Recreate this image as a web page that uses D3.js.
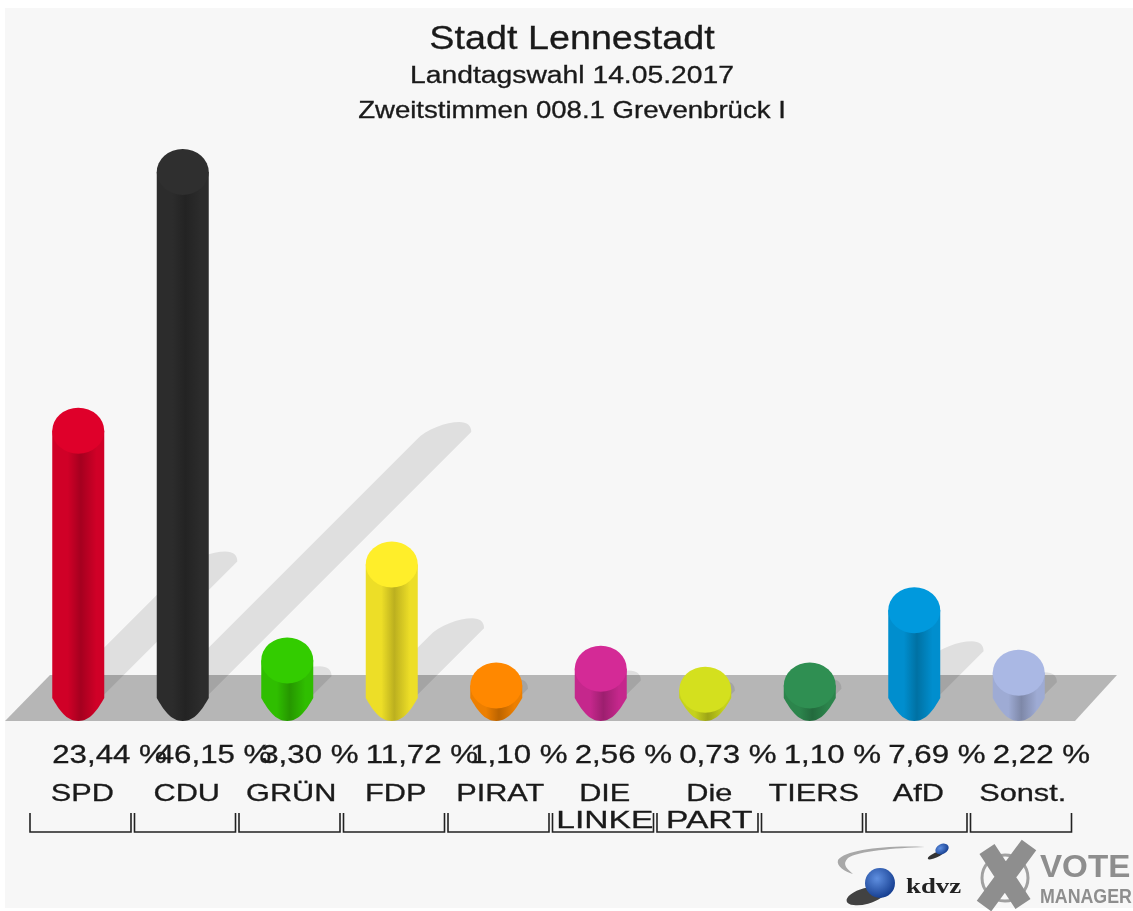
<!DOCTYPE html>
<html><head><meta charset="utf-8">
<script src="https://cdn.jsdelivr.net/npm/d3@7/dist/d3.min.js"></script>
<style>html,body{margin:0;padding:0;background:#fff}svg{display:block;filter:blur(0.6px)}text{font-family:"Liberation Sans",Arial,sans-serif;fill:#1a1a1a}</style>
</head><body><div id="chart"></div>
<script>
const parties=["SPD","CDU","GRÜN","FDP","PIRAT","DIE|LINKE","Die|PART","TIERS","AfD","Sonst."];
const values=[23.44,46.15,3.30,11.72,1.10,2.56,0.73,1.10,7.69,2.22];
const valueLabels=["23,44 %","46,15 %","3,30 %","11,72 %","1,10 %","2,56 %","0,73 %","1,10 %","7,69 %","2,22 %"];
const capColors=["#df002a","#2f2f2f","#33cc00","#ffee2a","#ff8800","#d42a96","#d4e01e","#2f8f52","#0099dd","#aab8e4"];
const titleLines=["Stadt Lennestadt","Landtagswahl 14.05.2017","Zweitstimmen 008.1 Grevenbrück I"];

const W=1133,H=911;
const svg=d3.select("#chart").append("svg").attr("width",W).attr("height",H);
const defs=svg.append("defs");
const x=d3.scaleBand().domain(d3.range(parties.length)).range([26,1071]).paddingInner(0).paddingOuter(0);
const y=d3.scaleLinear().domain([0,46.15]).range([675,149]);
const floorY=721,rx=26,ry=23;
const cx=i=>x(i)+x.bandwidth()/2;

svg.append("rect").attr("x",5).attr("y",8).attr("width",W-5).attr("height",900).attr("fill","#f7f7f7");
svg.append("path").attr("d","M5,721L50,675H1117L1075,721Z").attr("fill","#b6b6b6");

// shadows: sheared cylinders falling up and to the right
const shadows=svg.append("g").attr("fill","#000").attr("fill-opacity",0.095);
values.forEach((v,i)=>{
  const h=y(0)-y(v), L=0.5*h+8, X=cx(i);
  const tx=X+L+17.5, ty=703-L;
  const lx=tx-55, ly=ty+8;
  shadows.append("path").attr("d",
    `M${X},711V${Math.min(ly+(lx-X),711)}L${lx},${ly}`+
    `C${tx-45},${ty-3} ${tx-25},${ty-10} ${tx-12},${ty-10}Q${tx},${ty-10} ${tx},${ty}`+
    `L${X+9.5},711Z`);
});

// cylinders
values.forEach((v,i)=>{
  const c=d3.color(capColors[i]);
  const body=c.darker(0.2).formatHex(), dark=c.darker(0.85).formatHex();
  const g=defs.append("linearGradient").attr("id","g"+i).attr("x1",0).attr("x2",1).attr("y1",0).attr("y2",0);
  [[0,body],[0.3,body],[0.55,dark],[0.85,body],[1,body]].forEach(s=>g.append("stop").attr("offset",s[0]).attr("stop-color",s[1]));
  const top=y(v),cyc=top+ry,X=cx(i);
  svg.append("path").attr("fill",`url(#g${i})`).attr("d",
    `M${X-rx},${cyc}V${floorY-23}C${X-19},${floorY-11} ${X-12},${floorY} ${X},${floorY}C${X+12},${floorY} ${X+19},${floorY-11} ${X+rx},${floorY-23}V${cyc}Z`);
  svg.append("ellipse").attr("cx",X).attr("cy",cyc).attr("rx",rx).attr("ry",ry).attr("fill",capColors[i]);
});

function txt(str,px,py,size,sx,anchor){
  return svg.append("text").attr("transform",`translate(${px},${py}) scale(${sx},1)`)
    .attr("font-size",size).attr("text-anchor",anchor||"middle")
    .attr("stroke","#1a1a1a").attr("stroke-width",0.3).text(str);
}
txt(titleLines[0],572,49,34,1.11);
txt(titleLines[1],572,83,23,1.23);
txt(titleLines[2],572,118,23,1.2);

values.forEach((v,i)=>{
  txt(valueLabels[i],cx(i)-26,763,25,1.25,"start");
  const p=parties[i].split("|");
  if(p.length===1) txt(p[0],cx(i)+4,801,24,1.28);
  else { txt(p[0],cx(i)+4,801,24,1.28); txt(p[1],cx(i)+4,828,24,1.4); }
  const l=x(i)+4,r=x(i)+105;
  svg.append("path").attr("d",`M${l},813V832H${r}V813`).attr("fill","none").attr("stroke","#222").attr("stroke-width",1.6);
});

// kdvz logo
const rg=defs.append("radialGradient").attr("id","ball").attr("cx",0.4).attr("cy",0.35).attr("r",0.7);
rg.append("stop").attr("offset",0).attr("stop-color","#5f8fe0");
rg.append("stop").attr("offset",1).attr("stop-color","#123a8c");
svg.append("path").attr("d","M925,847C885,845 845,850 838,860C836,866 845,872 853,874C846,868 842,864 848,858C858,851 895,848 925,847Z").attr("fill","#a8a8a8");
svg.append("ellipse").attr("cx",936).attr("cy",855).attr("rx",9).attr("ry",2.5).attr("fill","#333").attr("transform","rotate(-25 936 855)");
svg.append("ellipse").attr("cx",942).attr("cy",849).attr("rx",7).attr("ry",5).attr("fill","url(#ball)").attr("transform","rotate(-25 942 849)");
svg.append("ellipse").attr("cx",866).attr("cy",896).attr("rx",20).attr("ry",8).attr("fill","#222").attr("opacity",0.85).attr("transform","rotate(-15 866 896)");
svg.append("circle").attr("cx",880).attr("cy",883).attr("r",15).attr("fill","url(#ball)");
svg.append("text").attr("transform","translate(906,893) scale(1.22,1)").attr("font-size",22).attr("font-weight","bold").attr("style","font-family:'Liberation Serif',serif;fill:#222").text("kdvz");
// vote manager logo
svg.append("circle").attr("cx",1005).attr("cy",878).attr("r",23).attr("fill","none").attr("stroke","#a0a0a0").attr("stroke-width",3);
svg.append("path").attr("d","M987,849L1023,904M1029,845L984,906").attr("stroke","#8e8e8e").attr("stroke-width",18).attr("fill","none");
svg.append("text").attr("transform","translate(1040,877) scale(1.07,1)").attr("font-size",31).attr("font-weight","bold").attr("style","fill:#8e8e8e").text("VOTE");
svg.append("text").attr("transform","translate(1040,903) scale(0.89,1)").attr("font-size",20).attr("font-weight","bold").attr("style","fill:#8e8e8e").text("MANAGER");
</script></body></html>
